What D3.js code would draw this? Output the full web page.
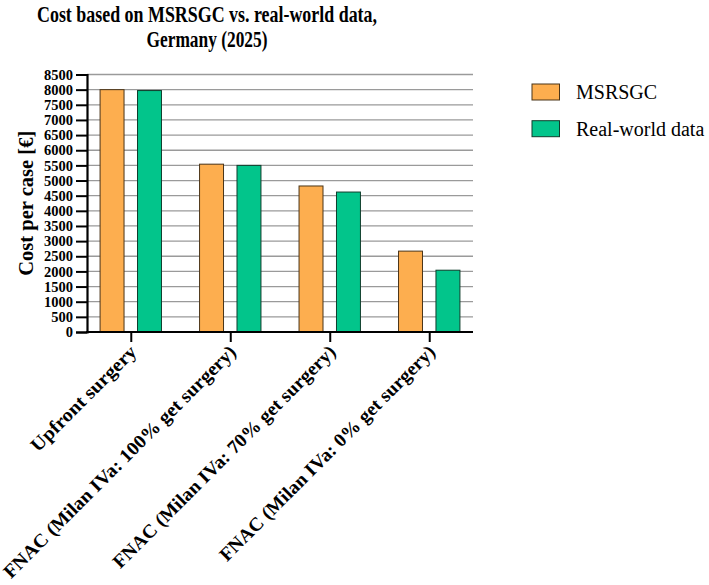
<!DOCTYPE html>
<html>
<head>
<meta charset="utf-8">
<script src="https://cdn.jsdelivr.net/npm/d3@7"></script>
</head>
<body style="margin:0;background:#fff">
<svg id="chart" width="709" height="585" font-family="Liberation Serif"></svg>
<script>
const categories = [
    'Upfront surgery',
    'FNAC (Milan IVa: 100% get surgery)',
    'FNAC (Milan IVa: 70% get surgery)',
    'FNAC (Milan IVa: 0% get surgery)'
]
const seriesNames = ['MSRSGC', 'Real-world data']
const msrsgc = [8000, 5540, 4820, 2670]
const realWorld = [7970, 5500, 4620, 2040]
const yTicks = d3.range(0, 8501, 500)

const FONT = 'Liberation Serif'
const COLORS = ['#FDAE4F', '#02C58B']
const STROKES = ['#4a3418', '#0f3d2c']

const margin = { top: 74.5, left: 87, right: 236, bottom: 253 }
const width = 709, height = 585

const svg = d3.select('#chart')

const x = d3.scalePoint()
    .domain(categories)
    .range([margin.left, width - margin.right])
    .padding(0.44)

const x1 = d3.scaleBand()
    .domain(seriesNames)
    .range([-30.7, 30.7])
    .paddingInner(0.36)

const y = d3.scaleLinear()
    .domain([0, 8500])
    .range([height - margin.bottom, margin.top])

// gridlines
svg.append('g')
    .selectAll('line')
    .data(yTicks.filter(d => d > 0))
    .join('line')
    .attr('x1', margin.left)
    .attr('x2', width - margin.right)
    .attr('y1', d => y(d))
    .attr('y2', d => y(d))
    .attr('stroke', '#9a9a9a')
    .attr('stroke-width', 1.3)

// bars
const rows = categories.map((c, i) => ({ cat: c, vals: [msrsgc[i], realWorld[i]] }))
svg.append('g')
    .selectAll('g')
    .data(rows)
    .join('g')
    .attr('transform', d => `translate(${x(d.cat)},0)`)
    .selectAll('rect')
    .data(d => d.vals.map((v, j) => ({ s: seriesNames[j], v, j })))
    .join('rect')
    .attr('x', d => x1(d.s))
    .attr('width', x1.bandwidth())
    .attr('y', d => y(d.v))
    .attr('height', d => y(0) - y(d.v))
    .attr('fill', d => COLORS[d.j])
    .attr('stroke', d => STROKES[d.j])
    .attr('stroke-width', 1)

// y axis
const yAxis = svg.append('g')
    .attr('transform', `translate(${margin.left},0)`)
    .call(d3.axisLeft(y).tickValues(yTicks).tickSize(11).tickPadding(3).tickFormat(d3.format('d')))
yAxis.attr('font-family', FONT)
yAxis.select('.domain').attr('stroke', '#000').attr('stroke-width', 2.2)
yAxis.selectAll('.tick line').attr('stroke', '#000').attr('stroke-width', 2)
yAxis.selectAll('.tick text')
    .attr('font-family', FONT)
    .attr('font-size', 14.5)
    .attr('font-weight', 'bold')
    .attr('fill', '#000')

// x axis
const xAxis = svg.append('g')
    .attr('transform', `translate(0,${y(0)})`)
    .call(d3.axisBottom(x).tickSize(10).tickSizeOuter(0).tickFormat(''))
xAxis.select('.domain').attr('stroke', '#000').attr('stroke-width', 2.2)
    .attr('d', `M${margin.left - 1},0H${width - margin.right}`)
xAxis.selectAll('.tick line').attr('stroke', '#000').attr('stroke-width', 2)

// rotated category labels
const labelLens = [141, 320, 306, 296]
svg.append('g')
    .selectAll('text')
    .data(categories)
    .join('text')
    .attr('transform', d => `translate(${x(d) + 7},${y(0) + 21}) rotate(-45)`)
    .attr('text-anchor', 'end')
    .attr('font-family', FONT)
    .attr('font-size', 19)
    .attr('font-weight', 'bold')
    .attr('textLength', (d, i) => labelLens[i])
    .attr('lengthAdjust', 'spacingAndGlyphs')
    .text(d => d)

// y label
svg.append('text')
    .attr('transform', `translate(33,${(y(0) + y(8500)) / 2}) rotate(-90)`)
    .attr('text-anchor', 'middle')
    .attr('font-family', FONT)
    .attr('font-size', 22)
    .attr('font-weight', 'bold')
    .attr('textLength', 145)
    .attr('lengthAdjust', 'spacingAndGlyphs')
    .text('Cost per case [€]')

// title
const title = svg.append('g')
    .attr('font-family', FONT)
    .attr('font-weight', 'bold')
    .attr('font-size', 24)
    .attr('text-anchor', 'middle')
title.append('text').attr('x', 207).attr('y', 22)
    .attr('textLength', 340).attr('lengthAdjust', 'spacingAndGlyphs')
    .text('Cost based on MSRSGC vs. real-world data,')
title.append('text').attr('x', 207).attr('y', 47)
    .attr('textLength', 121).attr('lengthAdjust', 'spacingAndGlyphs')
    .text('Germany (2025)')

// legend
const legend = svg.append('g')
    .selectAll('g')
    .data(seriesNames)
    .join('g')
    .attr('transform', (d, i) => `translate(532,${84 + i * 36.7})`)
legend.append('rect')
    .attr('width', 27.5)
    .attr('height', 16)
    .attr('fill', (d, i) => COLORS[i])
    .attr('stroke', (d, i) => STROKES[i])
    .attr('stroke-width', 1)
legend.append('text')
    .attr('x', 44)
    .attr('y', 15)
    .attr('font-family', FONT)
    .attr('font-size', 20)
    .text(d => d)
</script>
</body>
</html>
